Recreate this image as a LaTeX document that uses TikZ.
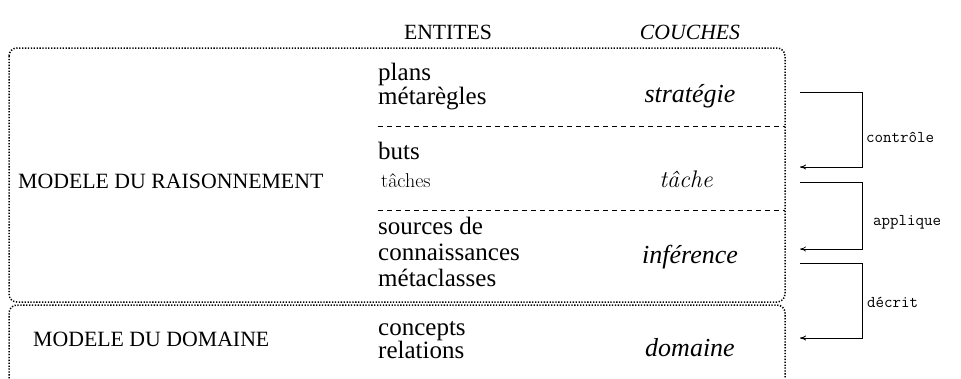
\documentclass[tikz,border=0pt]{standalone}
\usepackage{fontspec}
\setmainfont{Liberation Serif}
\newfontfamily\lmr{Latin Modern Roman}
\usetikzlibrary{arrows.meta}
\begin{document}
\begin{tikzpicture}[x=1pt,y=-1pt,
  dotbox/.style={line width=1.5pt, dash pattern=on 1.3pt off 1.6pt, rounded corners=8pt},
  sep/.style={line width=0.7pt, dash pattern=on 5pt off 4pt},
  ent/.style={anchor=base west, inner sep=0pt, font=\fontsize{25}{25}\selectfont},
  cou/.style={anchor=base, inner sep=0pt, font=\fontsize{26}{26}\selectfont\itshape},
  hdr/.style={anchor=base, inner sep=0pt, font=\fontsize{21.7}{21.7}\selectfont},
  mdl/.style={anchor=base west, inner sep=0pt, font=\fontsize{21.8}{21.8}\selectfont},
  lbl/.style={anchor=base west, inner sep=0pt, font=\fontsize{16.5}{16.5}\selectfont\ttfamily},
  link/.style={line width=0.9pt, -{To[length=6pt,width=5pt]}}
]
\useasboundingbox (0,0) rectangle (961,378);
% headers
\node[hdr] (hent) at (448,39) {ENTITES};
\node[hdr] (hcou) at (690,39) {\itshape COUCHES};
% boxes
\draw[dotbox] (9,48) rectangle (785,302);
\draw[dotbox] (9,390) -- (9,305) -- (785,305) -- (785,390);
% separators
\draw[sep] (378,126) -- (785,126);
\draw[sep] (378,210) -- (785,210);
% entities
\node[ent] (e1) at (378,80) {plans};
\node[ent] (e2) at (378,104) {métarègles};
\node[ent] (e3) at (378,159) {buts};
\node[anchor=base west, inner sep=0pt, font=\fontsize{20}{20}\selectfont\lmr] (e4) at (381,187) {tâches};
\node[ent] (e5) at (378,234) {sources de};
\node[ent] (e6) at (378,260) {connaissances};
\node[ent] (e7) at (378,286) {métaclasses};
\node[ent] (e8) at (378,335) {concepts};
\node[ent] (e9) at (378,358) {relations};
% couches
\node[cou] (c1) at (690,102) {stratégie};
\node[anchor=base, inner sep=0pt, font=\fontsize{24}{24}\selectfont\lmr\itshape] (c2) at (686,187) {tâche};
\node[cou] (c3) at (690,263) {inférence};
\node[cou] (c4) at (690,356) {domaine};
% models
\node[mdl] (m1) at (18,188) {MODELE DU RAISONNEMENT};
\node[mdl] (m2) at (33,346) {MODELE DU DOMAINE};
% arrows
\coordinate (a1s) at (800,92);  \coordinate (a1e) at (800,167);
\coordinate (a2s) at (800,182); \coordinate (a2e) at (800,249);
\coordinate (a3s) at (800,263); \coordinate (a3e) at (800,338);
\draw[link] (a1s) -- ++(62,0) |- (a1e);
\draw[link, line width=0.7pt] (a2s) -- ++(62,0) |- (a2e);
\draw[link] (a3s) -- ++(62,0) |- (a3e);
\node[lbl] (l1) at (866,142) {contrôle};
\node[lbl] (l2) at (873,225) {applique};
\node[lbl] (l3) at (867,307) {décrit};
\end{tikzpicture}
\end{document}
